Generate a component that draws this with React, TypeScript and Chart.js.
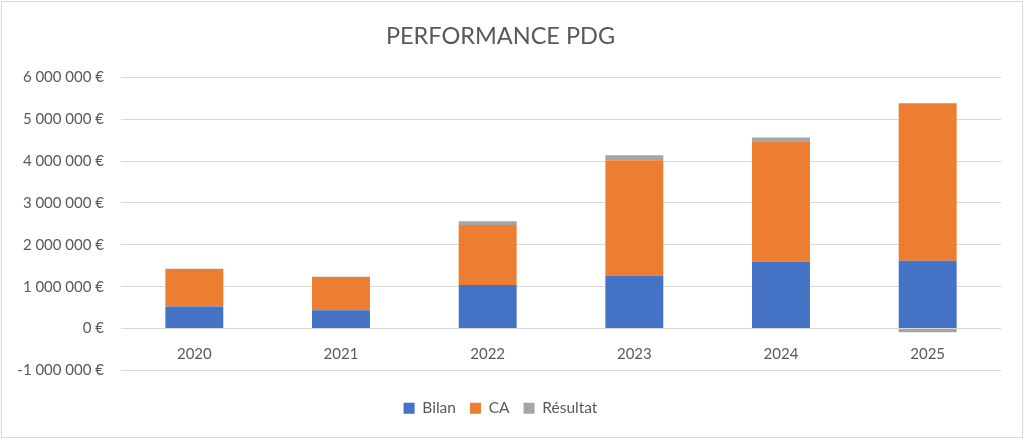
import React, { useEffect, useRef } from "react";
import { Chart, registerables } from "chart.js";

Chart.register(...registerables);

const categories = ["2020", "2021", "2022", "2023", "2024", "2025"];
const bilan = [530000, 440000, 1040000, 1260000, 1600000, 1620000];
const ca = [890000, 790000, 1430000, 2760000, 2870000, 3760000];
const resultat = [10000, 5000, 90000, 120000, 90000, -90000];
const yMin = -1000000;
const yMax = 6000000;
const yStep = 1000000;

const seriesNames = ["Bilan", "CA", "Résultat"];
const seriesColors = ["#4472C4", "#ED7D31", "#A5A5A5"];

const fmt = (v: number) => {
  const neg = v < 0;
  const s = Math.abs(Math.round(v)).toString().replace(/\B(?=(\d{3})+(?!\d))/g, " ");
  return (neg ? "-" : "") + s + " €";
};

const FONT = "Lato, 'Open Sans', sans-serif";
const TXT = "#595959";

export default function App() {
  const ref = useRef<HTMLCanvasElement | null>(null);

  useEffect(() => {
    if (!ref.current) return;
    const chart = new Chart(ref.current, {
      type: "bar",
      data: {
        labels: categories,
        datasets: [bilan, ca, resultat].map((d, i) => ({
          label: seriesNames[i],
          data: d,
          backgroundColor: seriesColors[i],
          borderWidth: 0,
          categoryPercentage: 1,
          barPercentage: 0.395,
          stack: "s",
        })),
      },
      options: {
        responsive: false,
        animation: false,
        devicePixelRatio: 1,
        layout: { padding: { left: 0, right: 23, top: 22, bottom: 14 } },
        plugins: {
          tooltip: { enabled: false },
          title: {
            display: true,
            text: "PERFORMANCE PDG",
            color: TXT,
            font: { family: FONT, size: 23.5, weight: "normal" },
            padding: { top: 0, bottom: 27 },
          },
          legend: {
            position: "bottom",
            title: {
              display: true,
              text: " ",
              font: { family: FONT, size: 10, lineHeight: 1 },
              padding: { top: 6, bottom: 0 },
            },
            labels: {
              color: TXT,
              font: { family: FONT, size: 15.5 },
              boxWidth: 11,
              boxHeight: 11,
              padding: 14,
            },
          },
        },
        scales: {
          x: {
            stacked: true,
            position: { y: 0 } as any,
            grid: { display: false },
            border: { display: false },
            ticks: { color: TXT, font: { family: FONT, size: 15 }, padding: 9 },
          },
          y: {
            stacked: true,
            min: yMin,
            max: yMax,
            grid: { color: "#D9D9D9", lineWidth: 1, drawTicks: false },
            border: { display: false },
            afterFit: (s: any) => {
              s.width = 121;
            },
            ticks: {
              stepSize: yStep,
              color: TXT,
              padding: 17,
              font: { family: FONT, size: 15 },
              callback: (v: any) => fmt(Number(v)),
            },
          },
        },
      },
    });
    return () => chart.destroy();
  }, []);

  return (
    <div style={{ position: "fixed", left: 0, top: 0, width: 1024, height: 440, background: "#fff" }}>
      <canvas ref={ref} width={1024} height={440} style={{ position: "absolute", left: 0, top: 0, width: 1024, height: 440 }} />
      <div
        style={{
          position: "absolute",
          left: 1,
          top: 1,
          width: 1022,
          height: 437,
          boxSizing: "border-box",
          border: "1px solid #D9D9D9",
          pointerEvents: "none",
        }}
      />
    </div>
  );
}
